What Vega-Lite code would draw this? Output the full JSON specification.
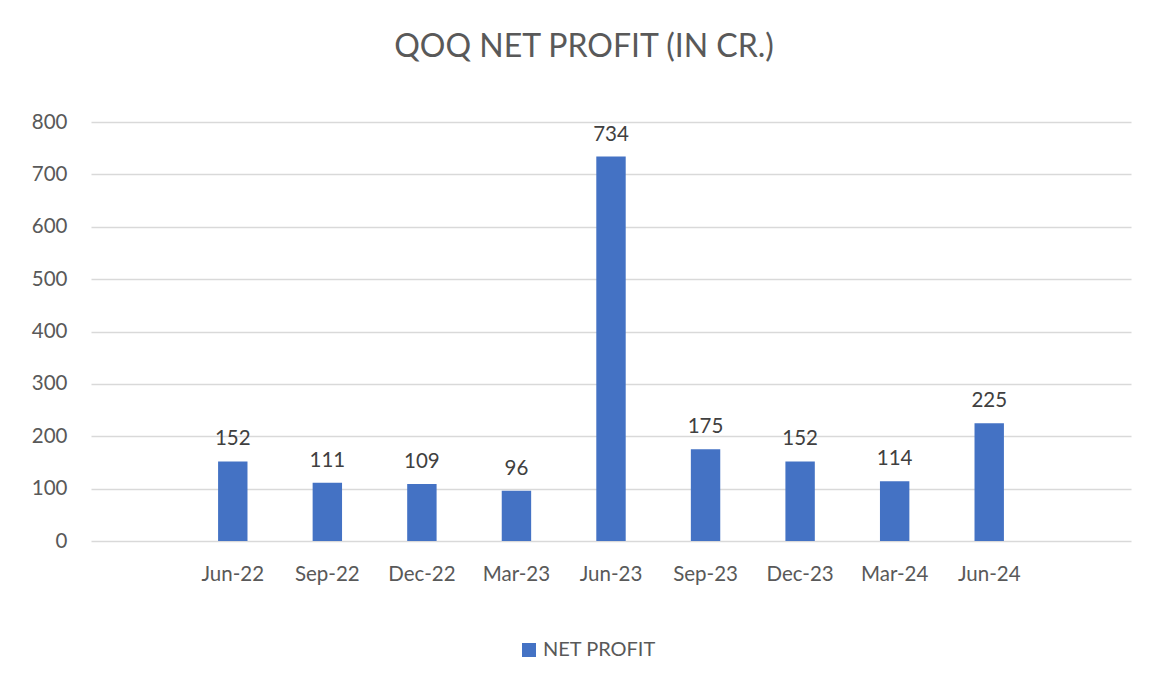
{
  "$schema": "https://vega.github.io/schema/vega-lite/v6.json",
  "autosize": {"type": "none"},
  "padding": {"left": 91, "top": 122, "right": 23, "bottom": 141},
  "width": 1040,
  "height": 419,
  "background": "white",
  "title": {
    "text": "QOQ NET PROFIT (IN CR.)",
    "font": "Lato",
    "fontSize": 32,
    "fontWeight": "normal",
    "color": "#595959",
    "anchor": "middle",
    "frame": "group",
    "baseline": "alphabetic",
    "dx": -27,
    "offset": 23
  },
  "data": {
    "values": [
      {"quarter": "Jun-22", "profit": 152, "series": "NET PROFIT"},
      {"quarter": "Sep-22", "profit": 111, "series": "NET PROFIT"},
      {"quarter": "Dec-22", "profit": 109, "series": "NET PROFIT"},
      {"quarter": "Mar-23", "profit": 96, "series": "NET PROFIT"},
      {"quarter": "Jun-23", "profit": 734, "series": "NET PROFIT"},
      {"quarter": "Sep-23", "profit": 175, "series": "NET PROFIT"},
      {"quarter": "Dec-23", "profit": 152, "series": "NET PROFIT"},
      {"quarter": "Mar-24", "profit": 114, "series": "NET PROFIT"},
      {"quarter": "Jun-24", "profit": 225, "series": "NET PROFIT"}
    ]
  },
  "encoding": {
    "x": {
      "field": "quarter",
      "type": "nominal",
      "sort": null,
      "scale": {
        "domain": ["_start", "Jun-22", "Sep-22", "Dec-22", "Mar-23", "Jun-23", "Sep-23", "Dec-23", "Mar-24", "Jun-24", "_end"],
        "paddingInner": 0.689,
        "paddingOuter": 0.344
      },
      "axis": {
        "title": null,
        "labelAngle": 0,
        "ticks": false,
        "domain": false,
        "labelExpr": "indexof(datum.value, '_') == 0 ? '' : datum.value",
        "labelPadding": 23,
        "labelFont": "Lato",
        "labelFontSize": 20.5,
        "labelColor": "#595959"
      }
    },
    "y": {
      "field": "profit",
      "type": "quantitative",
      "scale": {"domain": [0, 800]},
      "axis": {
        "title": null,
        "values": [0, 100, 200, 300, 400, 500, 600, 700, 800],
        "ticks": false,
        "domain": false,
        "labelPadding": 24,
        "labelFont": "Lato",
        "labelFontSize": 20.5,
        "labelColor": "#595959",
        "gridColor": "#d9d9d9",
        "gridWidth": 1.5
      }
    }
  },
  "layer": [
    {
      "mark": {"type": "bar"},
      "encoding": {
        "color": {
          "field": "series",
          "type": "nominal",
          "scale": {"range": ["#4472C4"]},
          "legend": {
            "title": null,
            "orient": "none",
            "legendX": 428,
            "legendY": 518,
            "symbolType": "square",
            "symbolSize": 196,
            "symbolStrokeWidth": 0,
            "labelFont": "Lato",
            "labelFontSize": 20,
            "labelColor": "#595959",
            "labelOffset": 4
          }
        }
      }
    },
    {
      "mark": {
        "type": "text",
        "baseline": "alphabetic",
        "align": "center",
        "dy": -16,
        "font": "Lato",
        "fontSize": 20.5,
        "color": "#404040"
      },
      "encoding": {
        "text": {"field": "profit", "type": "quantitative"}
      }
    }
  ],
  "config": {
    "view": {"stroke": null}
  }
}
